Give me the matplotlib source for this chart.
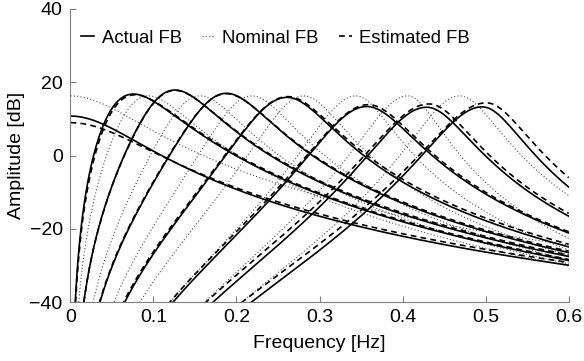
import numpy as np
from matplotlib import pyplot as plt

plt.rcParams['font.family'] = ['Liberation Sans', 'DejaVu Sans']

# lowpass channel at 0 Hz: gain [dB], cutoff [Hz]
actual_lp = [10.8, 0.079]
nominal_lp = [16.3, 0.079]
estimated_lp = [9.0, 0.09]
lp_order = 2.3

# bandpass channels: centre [Hz], peak [dB], bandwidth below / above centre [Hz]
actual_fc = [0.076, 0.126, 0.188, 0.261, 0.357, 0.429, 0.496]
actual_peak = [16.8, 17.9, 17.0, 15.9, 13.4, 13.2, 13.3]
actual_bw_lo = [0.11, 0.105, 0.108, 0.115, 0.118, 0.118, 0.119]
actual_bw_hi = [0.105, 0.102, 0.104, 0.104, 0.107, 0.099, 0.091]

nominal_fc = [0.09375, 0.15625, 0.21875, 0.28125, 0.34375, 0.40625, 0.46875]
nominal_peak = [16.3, 16.3, 16.3, 16.3, 16.3, 16.3, 16.3]
nominal_bw_lo = [0.10, 0.10, 0.10, 0.10, 0.10, 0.10, 0.10]
nominal_bw_hi = [0.10, 0.098, 0.095, 0.09, 0.082, 0.075, 0.088]

estimated_fc = [0.078, 0.126, 0.188, 0.262, 0.359, 0.432, 0.501]
estimated_peak = [16.6, 17.8, 16.9, 16.1, 13.9, 14.1, 14.4]
estimated_bw_lo = [0.11, 0.105, 0.11, 0.118, 0.122, 0.124, 0.126]
estimated_bw_hi = [0.107, 0.104, 0.106, 0.106, 0.1056, 0.097, 0.0934]

freq = np.linspace(0.0002, 0.6, 2000)


def lowpass_db(f, gain, cut):
    return gain - lp_order * 10 * np.log10(1 + (f / cut) ** 2)


def bandpass_db(f, fc, peak, bw_lo, bw_hi, n=3):
    x = f / fc
    q = np.where(x < 1, fc / bw_lo, fc / bw_hi)
    h2 = (x / q) ** 2 / ((1 - x ** 2) ** 2 + (x / q) ** 2)
    return peak + n * 10 * np.log10(h2)


def draw_bank(ax, lp, fc, peak, bw_lo, bw_hi, style, label):
    ax.plot(freq, lowpass_db(freq, lp[0], lp[1]), label=label, **style)
    for i in range(len(fc)):
        ax.plot(freq, bandpass_db(freq, fc[i], peak[i], bw_lo[i], bw_hi[i]), **style)


fig = plt.figure(figsize=(5.84, 3.61), dpi=100)
ax = fig.add_axes([0.1204, 0.1626, 0.8534, 0.8125])

solid = dict(color='black', lw=1.2, ls='-')
dotted = dict(color='0.3', lw=0.8, ls=(0, (1, 2)))
dashed = dict(color='black', lw=1.2, ls=(0, (3.5, 2.5)))

draw_bank(ax, nominal_lp, nominal_fc, nominal_peak, nominal_bw_lo, nominal_bw_hi, dotted, 'Nominal FB')
draw_bank(ax, actual_lp, actual_fc, actual_peak, actual_bw_lo, actual_bw_hi, solid, 'Actual FB')
draw_bank(ax, estimated_lp, estimated_fc, estimated_peak, estimated_bw_lo, estimated_bw_hi, dashed, 'Estimated FB')

ax.set_xlim(0, 0.6)
ax.set_ylim(-40, 40)
ax.set_xticks([0, 0.1, 0.2, 0.3, 0.4, 0.5, 0.6])
ax.set_xticklabels(['0', '0.1', '0.2', '0.3', '0.4', '0.5', '0.6'])
ax.set_yticks([-40, -20, 0, 20, 40])
ax.set_xlabel('Frequency [Hz]', fontsize=14, labelpad=7)
ax.set_ylabel('Amplitude [dB]', fontsize=14, labelpad=3)
ax.tick_params(direction='in', length=4, labelsize=14, color='0.5')
ax.tick_params(axis='x', pad=4.5)
ax.tick_params(axis='y', pad=5.5)
for s in ['top', 'right']:
    ax.spines[s].set_visible(False)
for s in ['left', 'bottom']:
    ax.spines[s].set_color('0.5')

h, l = ax.get_legend_handles_labels()
order = [1, 0, 2]
ax.legend([h[i] for i in order], [l[i] for i in order], ncol=3, frameon=False,
          loc='center left', bbox_to_anchor=(0.022, 0.90), borderaxespad=0, borderpad=0,
          handlelength=0.7, handletextpad=0.4, columnspacing=1.1, fontsize=13.3)

fig.savefig('out.png', dpi=100)
